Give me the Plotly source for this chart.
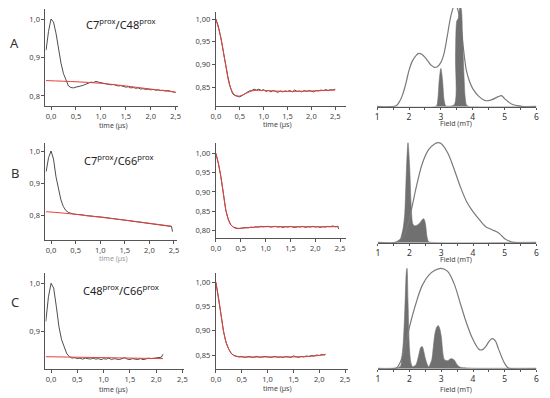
import plotly.graph_objects as go

# ---------------- DATA ----------------
# Column 1: raw DEER traces (time in µs) + background fit (red)
raw_A = [0.919, 0.968, 1.000, 0.992, 0.963, 0.922, 0.885, 0.858, 0.840, 0.826, 0.822, 0.821, 0.823,
         0.824, 0.826, 0.828, 0.831, 0.833, 0.836, 0.835, 0.838, 0.836, 0.835, 0.833, 0.832, 0.830,
         0.829, 0.830, 0.827, 0.826, 0.827, 0.824, 0.823, 0.824, 0.821, 0.822, 0.820, 0.821, 0.818,
         0.819, 0.817, 0.818, 0.816, 0.817, 0.815, 0.816, 0.814, 0.815, 0.813, 0.814, 0.812, 0.811, 0.809]
raw_A_t0 = -0.10
bg_A_t = [-0.10, 0.5, 1.0, 1.5, 2.0, 2.5]
bg_A = [0.840, 0.837, 0.833, 0.826, 0.818, 0.810]

raw_B = [0.936, 0.980, 1.000, 0.975, 0.920, 0.880, 0.848, 0.827, 0.815, 0.809, 0.806, 0.804, 0.803,
         0.803, 0.801, 0.801, 0.799, 0.799, 0.798, 0.797, 0.796, 0.796, 0.794, 0.794, 0.793, 0.792,
         0.791, 0.791, 0.789, 0.789, 0.787, 0.786, 0.785, 0.785, 0.783, 0.783, 0.781, 0.781, 0.779,
         0.779, 0.777, 0.776, 0.775, 0.775, 0.773, 0.773, 0.771, 0.770, 0.769, 0.768, 0.767, 0.765]
raw_B_t0 = -0.10
raw_B_end = (2.47, 0.749)
bg_B_t = [-0.10, 0.0, 0.5, 1.0, 1.5, 2.0, 2.45]
bg_B = [0.811, 0.810, 0.803, 0.794, 0.785, 0.775, 0.766]

raw_C = [0.921, 0.972, 1.000, 0.990, 0.952, 0.910, 0.883, 0.866, 0.854, 0.848, 0.845, 0.846, 0.844,
         0.845, 0.843, 0.845, 0.844, 0.843, 0.845, 0.843, 0.844, 0.842, 0.844, 0.843, 0.845, 0.842,
         0.844, 0.843, 0.842, 0.844, 0.846, 0.843, 0.842, 0.844, 0.843, 0.842, 0.844, 0.842, 0.843,
         0.845, 0.844, 0.845, 0.845, 0.846, 0.847]
raw_C_t0 = -0.10
raw_C_end = (2.13, 0.853)
bg_C_t = [-0.10, 2.13]
bg_C = [0.848, 0.844]

# Column 2: background-corrected traces + fit (red)
corr_A = [1.000, 0.985, 0.961, 0.930, 0.902, 0.874, 0.851, 0.836, 0.832, 0.830, 0.829, 0.832, 0.835,
          0.838, 0.842, 0.843, 0.846, 0.844, 0.846, 0.843, 0.845, 0.841, 0.843, 0.840, 0.843, 0.841,
          0.839, 0.842, 0.840, 0.842, 0.841, 0.843, 0.840, 0.844, 0.841, 0.842, 0.840, 0.843, 0.841,
          0.843, 0.842, 0.840, 0.843, 0.842, 0.844, 0.843, 0.845, 0.843, 0.845, 0.844, 0.846]
fit_A_t = [0.0, 0.1, 0.2, 0.3, 0.4, 0.5, 0.6, 0.7, 0.8, 1.0, 1.5, 2.0, 2.5]
fit_A = [1.000, 0.961, 0.902, 0.851, 0.833, 0.831, 0.835, 0.840, 0.843, 0.843, 0.841, 0.842, 0.844]

corr_B = [1.000, 0.974, 0.940, 0.897, 0.853, 0.829, 0.815, 0.809, 0.806, 0.805, 0.806, 0.807, 0.808,
          0.807, 0.809, 0.808, 0.810, 0.809, 0.811, 0.810, 0.810, 0.811, 0.809, 0.810, 0.811, 0.809,
          0.810, 0.808, 0.810, 0.809, 0.811, 0.809, 0.808, 0.810, 0.809, 0.811, 0.808, 0.810, 0.809,
          0.811, 0.809, 0.810, 0.808, 0.810, 0.809, 0.811, 0.810, 0.812, 0.810, 0.811]
corr_B_end = (2.47, 0.804)
fit_B_t = [0.0, 0.05, 0.1, 0.15, 0.2, 0.25, 0.3, 0.35, 0.4, 0.5, 0.7, 1.0, 1.5, 2.0, 2.47]
fit_B = [1.000, 0.974, 0.940, 0.897, 0.853, 0.829, 0.815, 0.809, 0.806, 0.806, 0.808, 0.810, 0.810, 0.810, 0.810]

corr_C = [1.000, 0.970, 0.933, 0.898, 0.875, 0.862, 0.853, 0.849, 0.847, 0.846, 0.847, 0.845, 0.846,
          0.847, 0.845, 0.846, 0.847, 0.845, 0.846, 0.847, 0.846, 0.845, 0.846, 0.847, 0.845, 0.846,
          0.845, 0.847, 0.846, 0.845, 0.848, 0.846, 0.845, 0.847, 0.846, 0.848, 0.847, 0.849, 0.848,
          0.850, 0.849, 0.851, 0.850]
corr_C_end = (2.12, 0.852)
fit_C_t = [0.0, 0.05, 0.1, 0.15, 0.2, 0.25, 0.3, 0.35, 0.4, 0.5, 1.0, 1.5, 1.8, 2.0, 2.12]
fit_C = [1.000, 0.970, 0.933, 0.898, 0.875, 0.862, 0.853, 0.849, 0.847, 0.846, 0.846, 0.846, 0.847, 0.849, 0.851]

# Column 3: field distributions (mT): outline curve + filled distribution
env_A_f = [1.0, 1.4, 1.6, 1.7, 1.8, 1.9, 2.0, 2.1, 2.2, 2.3, 2.4, 2.5, 2.6, 2.7, 2.8, 2.9, 3.0, 3.1, 3.2,
           3.3, 3.4, 3.45, 3.5, 3.6, 3.7, 3.8, 3.9, 4.0, 4.2, 4.4, 4.6, 4.8, 4.9, 5.0, 5.2, 5.4, 5.6, 6.0]
env_A = [0, 0, 0.01, 0.05, 0.12, 0.23, 0.36, 0.45, 0.50, 0.53, 0.52, 0.49, 0.45, 0.41, 0.39, 0.40, 0.44,
         0.53, 0.70, 0.88, 0.99, 1.0, 0.99, 0.86, 0.60, 0.36, 0.25, 0.18, 0.10, 0.06, 0.07, 0.10, 0.11,
         0.08, 0.03, 0.01, 0, 0]
dist_A_f = [1.0, 2.85, 2.9, 2.95, 3.0, 3.05, 3.1, 3.15, 3.2, 3.42, 3.46, 3.5, 3.55, 3.6, 3.64, 3.68,
            3.72, 3.76, 3.8, 3.85, 6.0]
dist_A = [0.005, 0.005, 0.06, 0.27, 0.38, 0.27, 0.07, 0.01, 0.005, 0.02, 0.50, 0.85, 0.88, 1.0, 0.97,
          0.70, 0.35, 0.10, 0.02, 0.005, 0.005]

env_B_f = [1.0, 1.5, 1.6, 1.7, 1.8, 1.9, 2.0, 2.1, 2.2, 2.4, 2.6, 2.8, 2.9, 3.0, 3.2, 3.4, 3.6, 3.8, 4.0,
           4.2, 4.4, 4.6, 4.8, 5.0, 5.2, 5.4, 6.0]
env_B = [0, 0, 0.01, 0.03, 0.06, 0.13, 0.25, 0.39, 0.54, 0.79, 0.93, 0.99, 1.0, 0.99, 0.90, 0.74, 0.56,
         0.41, 0.31, 0.23, 0.16, 0.13, 0.10, 0.04, 0.01, 0, 0]
dist_B_f = [1.0, 1.6, 1.7, 1.75, 1.8, 1.85, 1.9, 1.95, 2.0, 2.05, 2.1, 2.15, 2.2, 2.3, 2.4, 2.45, 2.5,
            2.55, 2.6, 2.65, 6.0]
dist_B = [0.005, 0.005, 0.03, 0.08, 0.15, 0.30, 0.72, 1.0, 0.78, 0.38, 0.19, 0.17, 0.17, 0.19, 0.23,
          0.24, 0.19, 0.06, 0.01, 0.005, 0.005]

env_C_f = [1.0, 1.5, 1.6, 1.7, 1.8, 1.9, 2.0, 2.2, 2.4, 2.6, 2.8, 3.0, 3.2, 3.4, 3.6, 3.8, 4.0, 4.2, 4.3,
           4.4, 4.5, 4.6, 4.7, 4.8, 4.9, 5.0, 5.1, 5.2, 6.0]
env_C = [0, 0, 0.01, 0.06, 0.15, 0.28, 0.42, 0.65, 0.83, 0.93, 0.98, 1.0, 0.97, 0.85, 0.65, 0.45, 0.29,
         0.19, 0.19, 0.22, 0.27, 0.30, 0.28, 0.20, 0.12, 0.05, 0.01, 0, 0]
dist_C_f = [1.0, 1.7, 1.75, 1.8, 1.85, 1.9, 1.92, 1.95, 2.0, 2.05, 2.1, 2.2, 2.3, 2.35, 2.4, 2.45, 2.5,
            2.6, 2.7, 2.75, 2.8, 2.85, 2.9, 2.95, 3.0, 3.1, 3.2, 3.3, 3.4, 3.5, 3.6, 3.8, 4.0, 6.0]
dist_C = [0.005, 0.02, 0.10, 0.25, 0.58, 0.97, 1.0, 0.68, 0.19, 0.05, 0.02, 0.04, 0.15, 0.21, 0.22,
          0.17, 0.10, 0.02, 0.09, 0.22, 0.35, 0.41, 0.43, 0.40, 0.32, 0.09, 0.08, 0.10, 0.09, 0.04,
          0.015, 0.008, 0.005, 0.005]

row_labels = ["A", "B", "C"]
titles = ["C7<sup>prox</sup>/C48<sup>prox</sup>", "C7<sup>prox</sup>/C66<sup>prox</sup>",
          "C48<sup>prox</sup>/C66<sup>prox</sup>"]
time_label = "time (µs)"
field_label = "Field (mT)"

# ---------------- FIGURE ----------------
# The page body has an 8px margin, so the figure is drawn 8px in from the window corner.
OFF = 8
W, H = 550 - OFF, 398 - OFF
def xd(a, b):
    return [max(0.0, (a - OFF) / W), min(1.0, (b - OFF) / W)]
def yd(top, bot):
    return [max(0.0, 1 - (bot - OFF) / H), min(1.0, 1 - (top - OFF) / H)]

def grid(t0, n):
    return [round(t0 + 0.05 * i, 3) for i in range(n)]

DATA_C = "#3a3a3a"
RED = "#e5403a"
GREY = "#7a7a7a"
FILL = "#707070"
AX = "#555555"
FONT = "Noto Sans"

fig = go.Figure()

def add(tr, k):
    tr.update(xaxis="x" if k == 1 else f"x{k}", yaxis="y" if k == 1 else f"y{k}",
              showlegend=False, hoverinfo="skip")
    fig.add_trace(tr)

# Row A
add(go.Scatter(x=grid(raw_A_t0, len(raw_A)), y=raw_A, mode="lines", line=dict(color=DATA_C, width=0.9)), 1)
add(go.Scatter(x=bg_A_t, y=bg_A, mode="lines", line=dict(color=RED, width=1, shape="spline")), 1)
add(go.Scatter(x=grid(0, len(corr_A)), y=corr_A, mode="lines", line=dict(color=DATA_C, width=0.9)), 2)
add(go.Scatter(x=fit_A_t, y=fit_A, mode="lines", line=dict(color=RED, width=1, shape="spline")), 2)
add(go.Scatter(x=env_A_f, y=env_A, mode="lines", line=dict(color=GREY, width=1.2, shape="spline")), 3)
add(go.Scatter(x=dist_A_f, y=dist_A, mode="lines", fill="tozeroy", fillcolor=FILL,
               line=dict(color=FILL, width=0.6, shape="spline", smoothing=0.8)), 3)

# Row B
add(go.Scatter(x=grid(raw_B_t0, len(raw_B)) + [raw_B_end[0]], y=raw_B + [raw_B_end[1]], mode="lines",
               line=dict(color=DATA_C, width=0.9)), 4)
add(go.Scatter(x=bg_B_t, y=bg_B, mode="lines", line=dict(color=RED, width=1, shape="spline")), 4)
add(go.Scatter(x=grid(0, len(corr_B)) + [corr_B_end[0]], y=corr_B + [corr_B_end[1]], mode="lines",
               line=dict(color=DATA_C, width=0.9)), 5)
add(go.Scatter(x=fit_B_t, y=fit_B, mode="lines", line=dict(color=RED, width=1, shape="spline")), 5)
add(go.Scatter(x=dist_B_f, y=dist_B, mode="lines", fill="tozeroy", fillcolor=FILL,
               line=dict(color=FILL, width=0.6, shape="spline", smoothing=0.8)), 6)
add(go.Scatter(x=env_B_f, y=env_B, mode="lines", line=dict(color=GREY, width=1.2, shape="spline")), 6)

# Row C
add(go.Scatter(x=grid(raw_C_t0, len(raw_C)) + [raw_C_end[0]], y=raw_C + [raw_C_end[1]], mode="lines",
               line=dict(color=DATA_C, width=0.9)), 7)
add(go.Scatter(x=bg_C_t, y=bg_C, mode="lines", line=dict(color=RED, width=1)), 7)
add(go.Scatter(x=grid(0, len(corr_C)) + [corr_C_end[0]], y=corr_C + [corr_C_end[1]], mode="lines",
               line=dict(color=DATA_C, width=0.9)), 8)
add(go.Scatter(x=fit_C_t, y=fit_C, mode="lines", line=dict(color=RED, width=1, shape="spline")), 8)
add(go.Scatter(x=dist_C_f, y=dist_C, mode="lines", fill="tozeroy", fillcolor=FILL,
               line=dict(color=FILL, width=0.6, shape="spline", smoothing=0.8)), 9)
add(go.Scatter(x=env_C_f, y=env_C, mode="lines", line=dict(color=GREY, width=1.2, shape="spline")), 9)

base_ax = dict(showline=True, linecolor=AX, linewidth=1, ticks="outside", ticklen=3, tickwidth=1,
               tickcolor=AX, tickfont=dict(size=7.5, color="#444", family=FONT), showgrid=False,
               zeroline=False, fixedrange=True)

# panel specs in window pixels: (x px, xrange, y px (top,bottom), yrange, kind)
panels = [
    ((41, 176), [-0.112, 2.552], (9, 106), [0.774, 1.026], "c1"),
    ((214.3, 347), [0, 2.733], (12, 106), [0.809, 1.0154], "c2"),
    ((378.3, 540.3), [1, 6], (8, 106.7), [0, 0.98], "c3"),
    ((41, 175), [-0.114, 2.566], (143.3, 240), [0.723, 1.024], "c1"),
    ((214.3, 346.7), [0, 2.619], (143.3, 238.3), [0.780, 1.026], "c2"),
    ((379, 540.3), [1, 6], (140.7, 242.7), [0, 1.02], "c3"),
    ((41, 181.7), [-0.107, 2.527], (273.3, 369.3), [0.8219, 1.0207], "c1"),
    ((214.3, 348.3), [0, 2.549], (273.3, 369), [0.8211, 1.0186], "c2"),
    ((379, 540.3), [1, 6], (266.3, 368.7), [0, 1.02], "c3"),
]

lay = {}
for i, (xdp, xr, ydp, yr, kind) in enumerate(panels, start=1):
    xn = "xaxis" if i == 1 else f"xaxis{i}"
    yn = "yaxis" if i == 1 else f"yaxis{i}"
    ya = "y" if i == 1 else f"y{i}"
    xa = "x" if i == 1 else f"x{i}"
    xax = dict(base_ax, domain=xd(*xdp), range=xr, anchor=ya)
    yax = dict(base_ax, domain=yd(*ydp), range=yr, anchor=xa)
    if kind == "c3":
        xax.update(tickmode="linear", tick0=1, dtick=1, tickformat="d", ticklen=2,
                   tickfont=dict(size=8.5, color="#333", family=FONT),
                   minor=dict(dtick=0.5, tick0=1, ticks="outside", ticklen=2, tickcolor=AX, showgrid=False))
        yax.update(visible=False)
    else:
        xax.update(tickmode="linear", tick0=0, dtick=0.5, tickformat=".1f")
        if kind == "c1":
            yax.update(tickmode="linear", tick0=0.8, dtick=0.1, tickformat=".1f")
        else:
            yax.update(tickmode="linear", tick0=0.8, dtick=0.05, tickformat=".2f")
    lay[xn] = xax
    lay[yn] = yax

annos = []
def ann(text, px, py, size, color="#222", xanchor="center"):
    annos.append(dict(text=text, x=(px - OFF) / W, y=1 - (py - OFF) / H, xref="paper", yref="paper",
                      xanchor=xanchor, yanchor="middle", showarrow=False,
                      font=dict(size=size, color=color, family=FONT)))

for lbl, py in zip(row_labels, [43, 173, 302]):
    ann(lbl, 10, py, 13, "#333")
for t, (px, py) in zip(titles, [(118, 24), (116, 160), (118, 290)]):
    ann(t, px, py, 11, "#222")
# axis titles
ann(time_label, 110, 125, 7, "#444")
ann(time_label, 277, 124, 7, "#444")
ann(field_label, 458, 123, 7, "#444")
ann(time_label, 110, 258.5, 7, "#999")
ann(field_label, 458, 259, 7, "#444")
ann(time_label, 110, 389, 7, "#444")
ann(time_label, 277, 388.5, 7, "#444")
ann(field_label, 458, 389, 7, "#444")

fig.update_layout(width=W, height=H, margin=dict(l=0, r=0, t=0, b=0), paper_bgcolor="white",
                  plot_bgcolor="white", separators=",.", annotations=annos, showlegend=False, **lay)

fig.write_html("out.html")
